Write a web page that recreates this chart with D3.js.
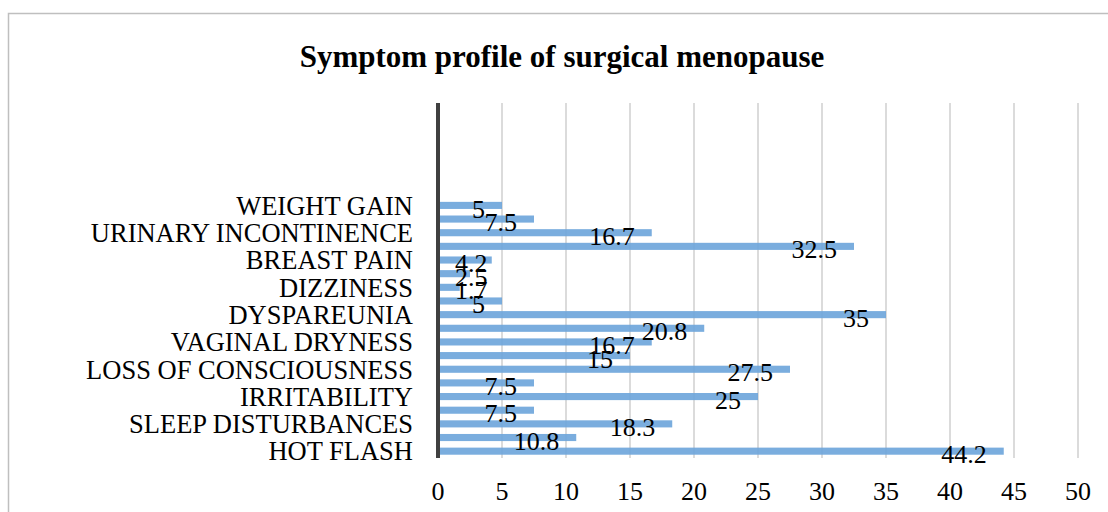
<!DOCTYPE html>
<html>
<head>
<meta charset="utf-8">
<script src="https://cdn.jsdelivr.net/npm/d3@7/dist/d3.min.js"></script>
<style>
  body { margin: 0; background: #fff; }
  text { font-family: "Liberation Serif", "Times New Roman", serif; fill: #000; }
</style>
</head>
<body>
<div id="chart"></div>
<script>
// values bottom to top, one per category slot
const values = [44.2, 10.8, 18.3, 7.5, 25, 7.5, 27.5, 15, 16.7, 20.8, 35, 5, 1.7, 2.5, 4.2, 32.5, 16.7, 7.5, 5];
// only every second category label is shown
const shownLabels = ["HOT FLASH", "SLEEP DISTURBANCES", "IRRITABILITY", "LOSS OF CONSCIOUSNESS",
  "VAGINAL DRYNESS", "DYSPAREUNIA", "DIZZINESS", "BREAST PAIN", "URINARY INCONTINENCE", "WEIGHT GAIN"];
const slotCount = 26;
const xTicks = [0, 5, 10, 15, 20, 25, 30, 35, 40, 45, 50];
const title = "Symptom profile of surgical menopause";

const W = 1108, H = 512;
const margin = { top: 103, right: 30, bottom: 54, left: 438 };
const width = 1078 - margin.left;
const height = 458 - margin.top;

const svg = d3.select("#chart").append("svg")
  .attr("width", W).attr("height", H);

svg.append("rect")
  .attr("x", 8.5).attr("y", 13.5)
  .attr("width", W + 20).attr("height", H + 20)
  .attr("fill", "none").attr("stroke", "#bfbfbf").attr("stroke-width", 1.5);

svg.append("text")
  .attr("x", 562).attr("y", 67)
  .attr("text-anchor", "middle")
  .style("font-size", "31px").style("font-weight", "bold")
  .text(title);

const g = svg.append("g").attr("transform", `translate(${margin.left},${margin.top})`);

const x = d3.scaleLinear().domain([0, 50]).range([0, width]);
const y = d3.scaleBand()
  .domain(d3.range(slotCount))
  .range([height, 0])
  .paddingInner(0.48).paddingOuter(0.24);

// grid lines
g.selectAll(".grid").data(xTicks.slice(1)).enter().append("line")
  .attr("x1", d => x(d)).attr("x2", d => x(d))
  .attr("y1", 0).attr("y2", height)
  .attr("stroke", "#cfcfcf").attr("stroke-width", 1.5);

// bars
g.selectAll(".bar").data(values).enter().append("rect")
  .attr("x", 0)
  .attr("y", (d, i) => y(i))
  .attr("width", d => x(d))
  .attr("height", y.bandwidth())
  .attr("fill", "#6fa6db")
  .attr("opacity", 0.92);

// vertical axis line
g.append("line")
  .attr("x1", 0).attr("x2", 0).attr("y1", 0).attr("y2", height)
  .attr("stroke", "#404040").attr("stroke-width", 4);

// x tick labels
g.selectAll(".xt").data(xTicks).enter().append("text")
  .attr("x", d => x(d)).attr("y", height + 42)
  .attr("text-anchor", "middle")
  .style("font-size", "26px")
  .text(d => d);

// category labels
g.selectAll(".cat").data(shownLabels).enter().append("text")
  .attr("x", -25)
  .attr("y", (d, i) => y(i * 2) + y.bandwidth() / 2)
  .attr("dy", "0.35em")
  .attr("text-anchor", "end")
  .style("font-size", "26.5px")
  .text(d => d);

// data labels, inside end, kept inside the plot start
g.selectAll(".val").data(values).enter().append("text")
  .attr("y", (d, i) => y(i) + y.bandwidth() / 2 + 3)
  .attr("dy", "0.35em")
  .attr("text-anchor", "end")
  .style("font-size", "26px")
  .text(d => d)
  .attr("x", function (d) {
    const w = this.getComputedTextLength();
    return Math.max(x(d) - 17, 17 + w);
  });
</script>
</body>
</html>
